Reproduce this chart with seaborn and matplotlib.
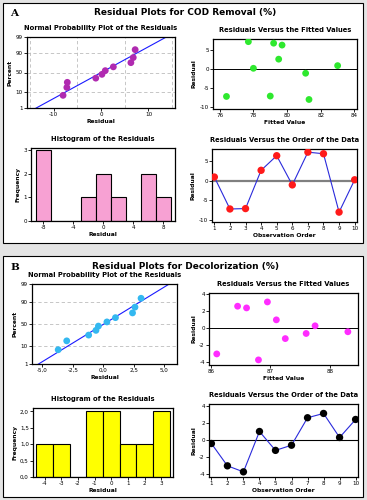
from statistics import NormalDist

import numpy as np
import pandas as pd
import matplotlib
matplotlib.use("Agg")
import matplotlib.pyplot as plt
from matplotlib.patches import Rectangle
import seaborn as sns

# ---- data ----
# panel A: COD removal
order = list(range(1, 11))
resid_a = [0.9, -7.2, -7.1, 2.6, 6.3, -1.1, 7.2, 6.8, -8.0, 0.2]
fitted_a = [83.0, 76.4, 79.0, 79.5, 79.7, 81.1, 77.7, 79.2, 81.3, 78.0]
# panel B: decolorization
resid_b = [-0.4, -3.0, -3.7, 1.0, -1.2, -0.6, 2.6, 3.1, 0.3, 2.4]
fitted_b = [88.3, 86.1, 86.8, 87.1, 87.25, 87.6, 86.45, 86.95, 87.75, 86.6]

hist_edges_a = np.arange(-9, 10, 2)
hist_edges_b = np.arange(-4.5, 4.0, 1)

pct_ticks = [1, 10, 50, 90, 99]
npp_xticks_b = [-5.0, -2.5, 0.0, 2.5, 5.0]
npp_xlabels_b = ["-5,0", "-2,5", "0,0", "2,5", "5,0"]
hist_yticks_b = [0, 0.5, 1.0, 1.5, 2.0]
hist_ylabels_b = ["0,0", "0,5", "1,0", "1,5", "2,0"]

W, H = 367, 500
sns.set_style("ticks")
plt.rcParams["font.family"] = ["DejaVu Sans"]
plt.rcParams["axes.unicode_minus"] = False
for k in ["text.color", "axes.labelcolor", "xtick.color", "ytick.color", "axes.edgecolor"]:
    plt.rcParams[k] = "black"
fig = plt.figure(figsize=(W / 100, H / 100), dpi=100)
fig.patch.set_facecolor("#e4e4e4")

# white framed panels, behind the axes
for top, bot in [(3, 243), (256, 497)]:
    fig.patches.append(Rectangle((3 / W, 1 - bot / H), 360 / W, (bot - top) / H,
                                 transform=fig.transFigure, facecolor="white",
                                 edgecolor="black", lw=0.8, zorder=-5))


def box(l, t, r, b):
    return fig.add_axes([l / W, 1 - b / H, (r - l) / W, (b - t) / H])


TS = 4.85  # subplot title size
LS = 4.3   # axis label size
KS = 4.1   # tick label size


def style(ax, title, xlabel, ylabel):
    ax.set_title(title, fontsize=TS, fontweight="bold", pad=5)
    ax.set_xlabel(xlabel, fontsize=LS, fontweight="bold", labelpad=1)
    ax.set_ylabel(ylabel, fontsize=LS, fontweight="bold", labelpad=2)
    ax.tick_params(labelsize=KS, length=2, width=0.6, pad=1)
    for s in ax.spines.values():
        s.set_linewidth(0.9)


nd = NormalDist()


def npp(ax, resid, color, xlim, xticks, xgrid, xlabels=None):
    r = np.sort(resid)
    n = len(r)
    z = [nd.inv_cdf((i - 0.3) / (n + 0.4)) for i in range(1, n + 1)]
    mu, sd = np.mean(r), np.std(r, ddof=1)
    zl = np.array([-3.0, 3.0])
    sns.lineplot(x=mu + sd * zl, y=zl, ax=ax, color="#1a1aff", lw=0.8, sort=False)
    sns.scatterplot(x=r, y=z, ax=ax, color=color, s=24, edgecolor="none", zorder=3)
    ax.set_xlim(xlim)
    ax.set_ylim(nd.inv_cdf(0.01), nd.inv_cdf(0.99))
    ax.set_yticks([nd.inv_cdf(p / 100) for p in pct_ticks])
    ax.set_yticklabels([str(p) for p in pct_ticks])
    ax.set_xticks(xticks)
    ax.set_xticks(xgrid, minor=True)
    if xlabels:
        ax.set_xticklabels(xlabels)
    ax.tick_params(axis="x", which="minor", length=0)
    ax.grid(True, axis="y", ls=(0, (4, 3)), color="#bdbdbd", lw=0.6)
    ax.grid(True, axis="x", which="minor", ls=(0, (4, 3)), color="#bdbdbd", lw=0.6)
    style(ax, "Normal Probability Plot of the Residuals", "Residual", "Percent")


def fitted(ax, fv, resid, color, xlim, ylim, xticks, yticks):
    sns.scatterplot(x=fv, y=resid, ax=ax, color=color, s=24, edgecolor="none", zorder=3)
    ax.axhline(0, color="black", lw=0.7)
    ax.set_xlim(xlim)
    ax.set_ylim(ylim)
    ax.set_xticks(xticks)
    ax.set_yticks(yticks)
    style(ax, "Residuals Versus the Fitted Values", "Fitted Value", "Residual")


def hist(ax, resid, edges, color, xlim, ylim, xticks, yticks, ylabels=None):
    sns.histplot(x=resid, bins=edges, ax=ax, color=color, alpha=1,
                 edgecolor="black", linewidth=0.8)
    ax.set_xlim(xlim)
    ax.set_ylim(ylim)
    ax.set_xticks(xticks)
    ax.set_yticks(yticks)
    if ylabels:
        ax.set_yticklabels(ylabels)
    style(ax, "Histogram of the Residuals", "Residual", "Frequency")


def ordplot(ax, resid, color, zcolor, zlw, ylim, yticks):
    df = pd.DataFrame({"order": order, "resid": resid})
    ax.axhline(0, color=zcolor, lw=zlw, zorder=1)
    sns.lineplot(data=df, x="order", y="resid", ax=ax, color="#2a2adb", lw=0.8, zorder=2)
    sns.scatterplot(data=df, x="order", y="resid", ax=ax, color=color, s=28,
                    edgecolor="none", zorder=3)
    ax.set_xlim(0.85, 10.15)
    ax.set_ylim(ylim)
    ax.set_xticks(order)
    ax.set_yticks(yticks)
    style(ax, "Residuals Versus the Order of the Data", "Observation Order", "Residual")


# ---- panel A ----
fig.text(10 / W, 1 - 13 / H, "A", family="DejaVu Serif", fontweight="bold", fontsize=7.5,
         va="center")
fig.text(185 / W, 1 - 12 / H, "Residual Plots for COD Removal (%)", fontweight="bold",
         fontsize=6.5, ha="center", va="center")

npp(box(27, 37, 175, 108), resid_a, "#b02ab0", (-15.6, 15.6), [-10, 0, 10],
    [-15, -10, -5, 0, 5, 10, 15])
fitted(box(213, 39, 357, 109), fitted_a, resid_a, "#2ee82e", (75.6, 84.15),
       (-10.5, 7.9), [76, 78, 80, 82, 84], [-10, -5, 0, 5])
hist(box(31, 148, 175, 221), resid_a, hist_edges_a, "#f7a1d3", (-9.6, 9.6), (0, 3.1),
     [-8, -4, 0, 4, 8], [0, 1, 2, 3])
ordplot(box(212, 149, 357, 222), resid_a, "#ff1a1a", "#808080", 1.6,
        (-10.5, 8.0), [-10, -5, 0, 5])

# ---- panel B ----
fig.text(10 / W, 1 - 268 / H, "B", family="DejaVu Serif", fontweight="bold", fontsize=7.5,
         va="center")
fig.text(185 / W, 1 - 266 / H, "Residual Plots for Decolorization (%)", fontweight="bold",
         fontsize=6.5, ha="center", va="center")

npp(box(32, 284, 177, 364), resid_b, "#33b8f0", (-5.85, 6.05), npp_xticks_b,
    npp_xticks_b, npp_xlabels_b)
fitted(box(209, 293, 358, 365), fitted_b, resid_b, "#ff2cff", (85.97, 88.47),
       (-4.3, 4.15), [86, 87, 88], [-4, -2, 0, 2, 4])
hist(box(33, 408, 173, 477), resid_b, hist_edges_b, "#ffff00", (-4.7, 3.7), (0, 2.1),
     [-4, -3, -2, -1, 0, 1, 2, 3], hist_yticks_b, hist_ylabels_b)
ordplot(box(209, 404, 358, 477), resid_b, "black", "black", 0.8,
        (-4.3, 4.2), [-4, -2, 0, 2, 4])

fig.savefig("out.png", dpi=100, facecolor=fig.get_facecolor())
